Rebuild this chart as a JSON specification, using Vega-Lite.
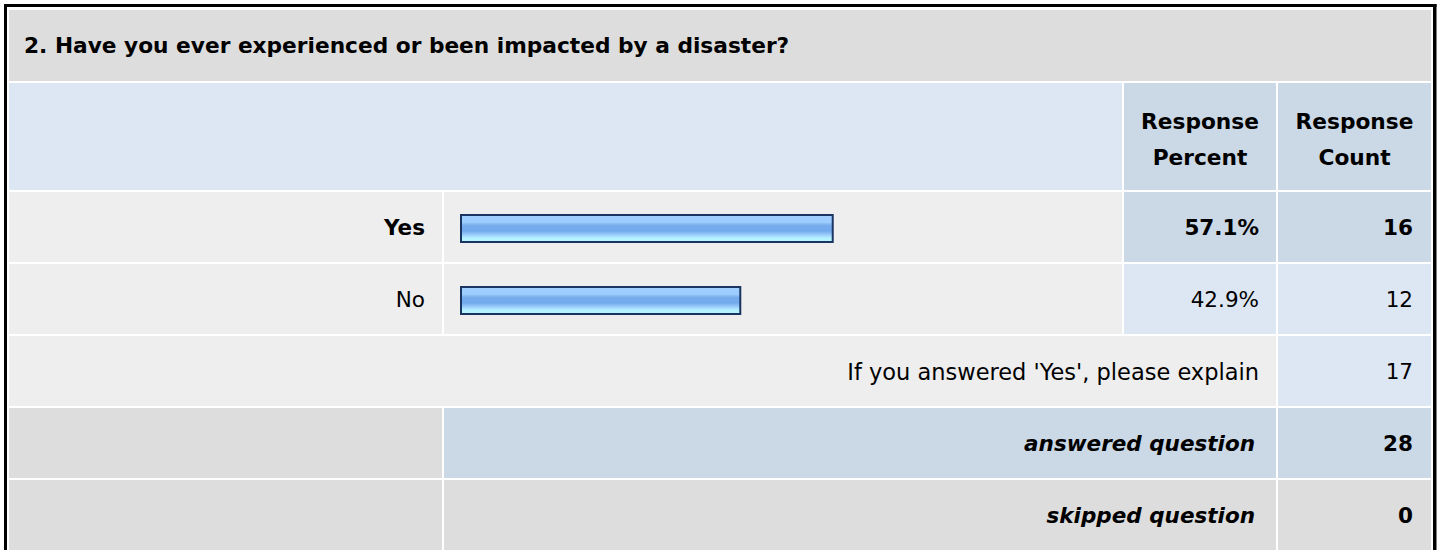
{
  "$schema": "https://vega.github.io/schema/vega-lite/v6.json",
  "background": "white",
  "padding": {"left": 4, "top": 4, "right": 0, "bottom": 0},
  "spacing": 0,
  "config": {
    "view": {"stroke": null},
    "text": {"font": "DejaVu Sans", "fontSize": 21.5, "color": "#000000"}
  },
  "datasets": {
    "question": [{"question": "2. Have you ever experienced or been impacted by a disaster?"}],
    "headers": [
      {"column": "choices", "header": ""},
      {"column": "percent", "header": "Response\nPercent"},
      {"column": "count", "header": "Response\nCount"}
    ],
    "answers": [
      {"row": "Yes", "label": "Yes", "percent": 0.571, "count": 16},
      {"row": "No", "label": "No", "percent": 0.429, "count": 12},
      {"row": "explain", "label": "If you answered 'Yes', please explain", "count": 17},
      {"row": "answered", "label": "answered question", "count": 28},
      {"row": "skipped", "label": "skipped question", "count": 0}
    ]
  },
  "vconcat": [
    {
      "width": 1422,
      "height": 71,
      "data": {"name": "question"},
      "layer": [
        {
          "mark": {"type": "rect", "color": "#dddddd"},
          "encoding": {"x": {"value": 0}, "x2": {"value": "width"}, "y": {"value": 0}, "y2": {"value": "height"}}
        },
        {
          "mark": {"type": "rect", "color": "#000000", "xOffset": -5, "x2Offset": 5.5, "yOffset": -6, "y2Offset": -3},
          "encoding": {"x": {"value": 0}, "x2": {"value": "width"}, "y": {"value": 0}, "y2": {"value": 0}}
        },
        {
          "mark": {"type": "rect", "color": "#000000", "xOffset": -5, "x2Offset": -2, "yOffset": -6, "y2Offset": 2},
          "encoding": {"x": {"value": 0}, "x2": {"value": 0}, "y": {"value": 0}, "y2": {"value": "height"}}
        },
        {
          "mark": {"type": "rect", "color": "#000000", "xOffset": 2, "x2Offset": 5.5, "yOffset": -6, "y2Offset": 2},
          "encoding": {"x": {"value": "width"}, "x2": {"value": "width"}, "y": {"value": 0}, "y2": {"value": "height"}}
        },
        {
          "mark": {"type": "text", "align": "left", "baseline": "middle", "fontWeight": "bold", "fontSize": 21.7, "dx": 15, "dy": 0},
          "encoding": {"x": {"value": 0}, "text": {"field": "question"}}
        }
      ]
    },
    {
      "spacing": 2,
      "bounds": "flush",
      "hconcat": [
        {
          "width": 1113,
          "height": 107,
          "data": {"name": "headers"},
          "transform": [{"filter": "datum.column === 'choices'"}],
          "layer": [
            {
              "mark": {"type": "rect", "color": "#dde7f4"},
              "encoding": {"x": {"value": 0}, "x2": {"value": "width"}, "y": {"value": 0}, "y2": {"value": "height"}}
            },
            {
              "mark": {"type": "rect", "color": "#000000", "xOffset": -5, "x2Offset": -2, "y2Offset": 2},
              "encoding": {"x": {"value": 0}, "x2": {"value": 0}, "y": {"value": 0}, "y2": {"value": "height"}}
            }
          ]
        },
        {
          "width": 152,
          "height": 107,
          "data": {"name": "headers"},
          "transform": [{"filter": "datum.column === 'percent'"}],
          "layer": [
            {
              "mark": {"type": "rect", "color": "#cbd8e6"},
              "encoding": {"x": {"value": 0}, "x2": {"value": "width"}, "y": {"value": 0}, "y2": {"value": "height"}}
            },
            {
              "mark": {"type": "text", "align": "center", "baseline": "middle", "fontWeight": "bold", "fontSize": 21.7, "lineBreak": "\n", "lineHeight": 36, "dy": -15},
              "encoding": {"text": {"field": "header"}}
            }
          ]
        },
        {
          "width": 153,
          "height": 107,
          "data": {"name": "headers"},
          "transform": [{"filter": "datum.column === 'count'"}],
          "layer": [
            {
              "mark": {"type": "rect", "color": "#cbd8e6"},
              "encoding": {"x": {"value": 0}, "x2": {"value": "width"}, "y": {"value": 0}, "y2": {"value": "height"}}
            },
            {
              "mark": {"type": "rect", "color": "#000000", "xOffset": 2, "x2Offset": 5.5, "y2Offset": 2},
              "encoding": {"x": {"value": "width"}, "x2": {"value": "width"}, "y": {"value": 0}, "y2": {"value": "height"}}
            },
            {
              "mark": {"type": "text", "align": "center", "baseline": "middle", "fontWeight": "bold", "fontSize": 21.7, "lineBreak": "\n", "lineHeight": 36, "dy": -15},
              "encoding": {"text": {"field": "header"}}
            }
          ]
        }
      ]
    },
    {
      "spacing": 2,
      "bounds": "flush",
      "data": {"name": "answers"},
      "hconcat": [
        {
          "width": 433,
          "height": 358,
          "encoding": {
            "y": {"field": "row", "type": "nominal", "axis": null, "scale": {"domain": ["Yes", "No", "explain", "answered", "skipped"], "paddingInner": 0.0278, "paddingOuter": 0}}
          },
          "layer": [
            {
              "transform": [{"filter": "datum.row !== 'explain'"}],
              "mark": {"type": "rect"},
              "encoding": {
                "x": {"value": 0}, "x2": {"value": "width"},
                "color": {"condition": {"test": "datum.row === 'answered' || datum.row === 'skipped'", "value": "#dddddd"}, "value": "#eeeeee"}
              }
            },
            {
              "transform": [{"filter": "datum.row === 'explain'"}],
              "mark": {"type": "rect", "color": "#eeeeee", "x2Offset": 3},
              "encoding": {"x": {"value": 0}, "x2": {"value": "width"}}
            },
            {
              "transform": [{"filter": "datum.row === 'Yes'"}],
              "mark": {"type": "rect", "color": "#000000", "xOffset": -5, "x2Offset": -2, "yOffset": 0, "y2Offset": 20},
              "encoding": {"x": {"value": 0}, "x2": {"value": 0}, "y": {"value": 0}, "y2": {"value": "height"}}
            },
            {
              "transform": [{"filter": "datum.row === 'Yes'"}],
              "mark": {"type": "text", "align": "right", "baseline": "middle", "fontWeight": "bold", "dx": -17, "dy": 2},
              "encoding": {"x": {"value": "width"}, "text": {"field": "label"}}
            },
            {
              "transform": [{"filter": "datum.row === 'No'"}],
              "mark": {"type": "text", "align": "right", "baseline": "middle", "dx": -17, "dy": 2},
              "encoding": {"x": {"value": "width"}, "text": {"field": "label"}}
            }
          ]
        },
        {
          "width": 678,
          "height": 358,
          "encoding": {
            "y": {"field": "row", "type": "nominal", "axis": null, "scale": {"domain": ["Yes", "No", "explain", "answered", "skipped"], "paddingInner": 0.0278, "paddingOuter": 0}}
          },
          "layer": [
            {
              "transform": [{"filter": "datum.row === 'Yes' || datum.row === 'No'"}],
              "mark": {"type": "rect", "color": "#eeeeee"},
              "encoding": {"x": {"value": 0}, "x2": {"value": "width"}}
            },
            {
              "transform": [{"filter": "datum.row === 'explain' || datum.row === 'answered' || datum.row === 'skipped'"}],
              "mark": {"type": "rect", "x2Offset": 3},
              "encoding": {
                "x": {"value": 0}, "x2": {"value": "width"},
                "color": {"condition": [
                  {"test": "datum.row === 'answered'", "value": "#cbd8e6"},
                  {"test": "datum.row === 'skipped'", "value": "#dddddd"}
                ], "value": "#eeeeee"}
              }
            },
            {
              "transform": [{"filter": "isValid(datum.percent)"}],
              "mark": {
                "type": "bar",
                "size": 27,
                "yOffset": 1.5,
                "stroke": "#1b3563",
                "strokeWidth": 2,
                "fill": {
                  "gradient": "linear", "x1": 0, "y1": 0, "x2": 0, "y2": 1,
                  "stops": [
                    {"offset": 0, "color": "#a2d0ff"},
                    {"offset": 0.28, "color": "#9ccbff"},
                    {"offset": 0.32, "color": "#8cbcf4"},
                    {"offset": 0.4, "color": "#74abec"},
                    {"offset": 0.6, "color": "#74abec"},
                    {"offset": 0.68, "color": "#8cc0f6"},
                    {"offset": 0.78, "color": "#a8daff"},
                    {"offset": 0.86, "color": "#b4f2ff"},
                    {"offset": 1, "color": "#b8f8ff"}
                  ]
                }
              },
              "encoding": {
                "x": {"field": "percent", "type": "quantitative", "axis": null, "scale": {"domain": [0, 1], "range": [17, 668]}}
              }
            }
          ]
        },
        {
          "width": 152,
          "height": 358,
          "encoding": {
            "y": {"field": "row", "type": "nominal", "axis": null, "scale": {"domain": ["Yes", "No", "explain", "answered", "skipped"], "paddingInner": 0.0278, "paddingOuter": 0}}
          },
          "layer": [
            {
              "mark": {"type": "rect"},
              "encoding": {
                "x": {"value": 0}, "x2": {"value": "width"},
                "color": {"condition": [
                  {"test": "datum.row === 'Yes' || datum.row === 'answered'", "value": "#cbd8e6"},
                  {"test": "datum.row === 'No'", "value": "#dde7f4"},
                  {"test": "datum.row === 'skipped'", "value": "#dddddd"}
                ], "value": "#eeeeee"}
              }
            },
            {
              "transform": [{"filter": "datum.row === 'Yes'"}],
              "mark": {"type": "text", "align": "right", "baseline": "middle", "fontWeight": "bold", "dx": -17, "dy": 2},
              "encoding": {"x": {"value": "width"}, "text": {"field": "percent", "type": "quantitative", "format": ".1%"}}
            },
            {
              "transform": [{"filter": "datum.row === 'No'"}],
              "mark": {"type": "text", "align": "right", "baseline": "middle", "dx": -17, "dy": 2},
              "encoding": {"x": {"value": "width"}, "text": {"field": "percent", "type": "quantitative", "format": ".1%"}}
            },
            {
              "transform": [{"filter": "datum.row === 'explain'"}],
              "mark": {"type": "text", "align": "right", "baseline": "middle", "fontSize": 22.5, "dx": -17, "dy": 2},
              "encoding": {"x": {"value": "width"}, "text": {"field": "label"}}
            },
            {
              "transform": [{"filter": "datum.row === 'answered' || datum.row === 'skipped'"}],
              "mark": {"type": "text", "align": "right", "baseline": "middle", "fontWeight": "bold", "fontStyle": "italic", "dx": -21, "dy": 2},
              "encoding": {"x": {"value": "width"}, "text": {"field": "label"}}
            }
          ]
        },
        {
          "width": 153,
          "height": 358,
          "encoding": {
            "y": {"field": "row", "type": "nominal", "axis": null, "scale": {"domain": ["Yes", "No", "explain", "answered", "skipped"], "paddingInner": 0.0278, "paddingOuter": 0}}
          },
          "layer": [
            {
              "mark": {"type": "rect"},
              "encoding": {
                "x": {"value": 0}, "x2": {"value": "width"},
                "color": {"condition": [
                  {"test": "datum.row === 'Yes' || datum.row === 'answered'", "value": "#cbd8e6"},
                  {"test": "datum.row === 'No' || datum.row === 'explain'", "value": "#dde7f4"}
                ], "value": "#dddddd"}
              }
            },
            {
              "transform": [{"filter": "datum.row === 'Yes'"}],
              "mark": {"type": "rect", "color": "#000000", "xOffset": 2, "x2Offset": 5.5, "yOffset": 0, "y2Offset": 20},
              "encoding": {"x": {"value": "width"}, "x2": {"value": "width"}, "y": {"value": 0}, "y2": {"value": "height"}}
            },
            {
              "transform": [{"filter": "datum.row === 'Yes' || datum.row === 'answered' || datum.row === 'skipped'"}],
              "mark": {"type": "text", "align": "right", "baseline": "middle", "fontWeight": "bold", "dx": -18, "dy": 2},
              "encoding": {"x": {"value": "width"}, "text": {"field": "count", "type": "quantitative"}}
            },
            {
              "transform": [{"filter": "datum.row === 'No' || datum.row === 'explain'"}],
              "mark": {"type": "text", "align": "right", "baseline": "middle", "dx": -18, "dy": 2},
              "encoding": {"x": {"value": "width"}, "text": {"field": "count", "type": "quantitative"}}
            }
          ]
        }
      ]
    }
  ]
}
